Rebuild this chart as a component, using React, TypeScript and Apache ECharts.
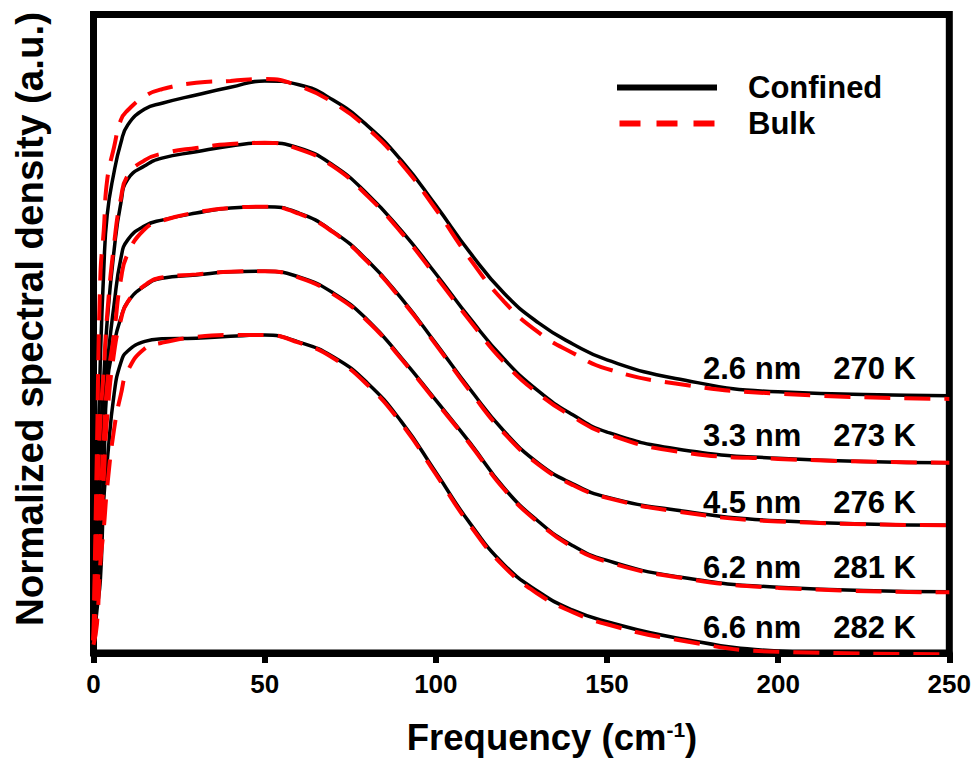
import React, { useEffect, useRef } from 'react';
import * as echarts from 'echarts';

// Frequency grid (cm^-1)
const frequency = [0, 1, 2, 3, 4, 6, 8, 10, 15, 20, 30, 40, 50, 60, 70, 80, 90, 100, 110, 120, 130, 140, 150, 170, 200, 250];

// Normalized spectral density (a.u., curves offset vertically)
const confined26 = [0.20, 2.40, 4.59, 6.00, 6.86, 7.53, 7.99, 8.27, 8.52, 8.61, 8.74, 8.86, 8.96, 8.90, 8.66, 8.26, 7.71, 7.01, 6.27, 5.63, 5.17, 4.84, 4.59, 4.30, 4.09, 4.03];
const bulk26 = [0.20, 3.18, 5.89, 6.62, 7.41, 7.92, 8.35, 8.50, 8.72, 8.83, 8.93, 8.96, 8.99, 8.88, 8.62, 8.22, 7.66, 6.95, 6.17, 5.50, 5.02, 4.70, 4.45, 4.22, 4.06, 3.98];

const confined33 = [0.20, 1.93, 3.34, 4.30, 5.20, 6.30, 7.05, 7.42, 7.63, 7.75, 7.85, 7.94, 7.99, 7.91, 7.64, 7.19, 6.61, 5.94, 5.24, 4.60, 4.10, 3.73, 3.46, 3.20, 3.05, 2.98];
const bulk33 = [0.20, 2.24, 3.65, 4.43, 5.30, 6.40, 7.12, 7.48, 7.72, 7.82, 7.91, 7.97, 7.99, 7.89, 7.62, 7.16, 6.58, 5.90, 5.20, 4.55, 4.06, 3.70, 3.43, 3.16, 3.04, 2.98];

const confined45 = [0.20, 1.46, 2.71, 3.65, 4.50, 5.45, 6.18, 6.47, 6.69, 6.78, 6.89, 6.97, 6.99, 6.89, 6.60, 6.15, 5.55, 4.85, 4.13, 3.47, 2.97, 2.65, 2.44, 2.24, 2.07, 2.00];
const bulk45 = [0.20, 1.30, 2.40, 3.34, 4.20, 5.00, 5.85, 6.25, 6.64, 6.77, 6.90, 6.97, 6.99, 6.88, 6.59, 6.13, 5.53, 4.83, 4.10, 3.44, 2.95, 2.63, 2.43, 2.22, 2.06, 2.00];

const confined62 = [0.20, 0.99, 1.93, 2.87, 4.20, 4.85, 5.25, 5.50, 5.75, 5.87, 5.92, 5.97, 5.98, 5.89, 5.64, 5.22, 4.62, 3.96, 3.29, 2.58, 2.06, 1.68, 1.45, 1.20, 1.03, 0.96];
const bulk62 = [0.20, 0.90, 1.80, 2.75, 3.70, 4.70, 5.22, 5.50, 5.76, 5.88, 5.93, 5.97, 5.98, 5.88, 5.62, 5.20, 4.60, 3.94, 3.27, 2.56, 2.04, 1.66, 1.43, 1.19, 1.02, 0.95];

const confined66 = [0.13, 0.67, 1.14, 2.40, 3.00, 4.05, 4.55, 4.73, 4.88, 4.92, 4.93, 4.96, 4.98, 4.87, 4.64, 4.23, 3.62, 2.83, 2.03, 1.38, 0.96, 0.67, 0.49, 0.24, 0.03, -0.05];
const bulk66 = [0.13, 0.45, 1.41, 1.95, 2.60, 3.50, 4.05, 4.42, 4.77, 4.86, 4.95, 4.98, 4.98, 4.86, 4.62, 4.20, 3.59, 2.80, 2.00, 1.35, 0.92, 0.64, 0.45, 0.21, 0.02, -0.02];

const sizeLabels = ['2.6 nm', '3.3 nm', '4.5 nm', '6.2 nm', '6.6 nm'];
const tempLabels = ['270 K', '273 K', '276 K', '281 K', '282 K'];
const legendNames = ['Confined', 'Bulk'];
const xTicks = [0, 50, 100, 150, 200, 250];

export default function App() {
  const ref = useRef<HTMLDivElement>(null);

  useEffect(() => {
    if (!ref.current) return;
    const chart = echarts.init(ref.current, null, { renderer: 'svg' });
    const font = 'Arial, "Liberation Sans", Helvetica, sans-serif';

    const pairs = [
      [confined26, bulk26],
      [confined33, bulk33],
      [confined45, bulk45],
      [confined62, bulk62],
      [confined66, bulk66],
    ];
    const series: any[] = [];
    pairs.forEach(([c, b]) => {
      series.push({
        type: 'line',
        name: legendNames[0],
        data: frequency.map((f, i) => [f, c[i]]),
        showSymbol: false,
        symbol: 'none',
        smooth: 0.5,
        color: '#000000',
        lineStyle: { color: '#000000', width: 3.5 },
        z: 2,
      });
      series.push({
        type: 'line',
        name: legendNames[1],
        data: frequency.map((f, i) => [f, b[i]]),
        showSymbol: false,
        symbol: 'none',
        smooth: 0.5,
        color: '#ff0000',
        lineStyle: { color: '#ff0000', width: 4, type: [26, 14] },
        z: 3,
      });
    });

    const labelTops = [368, 435, 502, 567, 627];
    const annotations: any[] = [];
    sizeLabels.forEach((s, i) => {
      annotations.push({
        type: 'text',
        x: 703,
        y: labelTops[i],
        z: 10,
        style: { text: s, font: `bold 31px ${font}`, fill: '#000', align: 'left', verticalAlign: 'middle' },
      });
      annotations.push({
        type: 'text',
        x: 916,
        y: labelTops[i],
        z: 10,
        style: { text: tempLabels[i], font: `bold 31px ${font}`, fill: '#000', align: 'right', verticalAlign: 'middle' },
      });
    });

    chart.setOption({
      animation: false,
      backgroundColor: '#ffffff',
      grid: {
        left: 93.5,
        right: 24.5,
        top: 14.5,
        bottom: 105,
        show: true,
        borderColor: '#000000',
        borderWidth: 7,
        backgroundColor: 'transparent',
      },
      legend: {
        data: [
          { name: legendNames[0], icon: 'path://M0,0H100V6H0Z' },
          { name: legendNames[1], icon: 'path://M0,0H21V6H0Z M37,0H58V6H37Z M74,0H95V6H74Z' },
        ],
        orient: 'vertical',
        left: 617,
        top: 72,
        padding: 0,
        itemWidth: 100,
        itemHeight: 6,
        itemGap: 5,
        textStyle: { fontSize: 31, fontWeight: 'bold', fontFamily: font, color: '#000', padding: [10, 0, 0, 26] },
        selectedMode: false,
      },
      xAxis: {
        type: 'value',
        min: xTicks[0],
        max: xTicks[xTicks.length - 1],
        interval: xTicks[1] - xTicks[0],
        axisLine: { show: true, lineStyle: { color: '#000', width: 7 } },
        axisTick: { show: true, length: 10, lineStyle: { color: '#000', width: 6 } },
        axisLabel: { fontSize: 26, fontWeight: 'bold', fontFamily: font, color: '#000', margin: 18 },
        splitLine: { show: false },
      },
      yAxis: {
        type: 'value',
        min: 0,
        max: 10,
        show: false,
        splitLine: { show: false },
      },
      graphic: [
        {
          type: 'text',
          x: 29,
          y: 319,
          rotation: Math.PI / 2,
          style: {
            text: 'Normalized spectral density (a.u.)',
            font: `bold 38.5px ${font}`,
            fill: '#000',
            align: 'center',
            verticalAlign: 'middle',
          },
        },
        {
          type: 'text',
          x: 552,
          y: 737,
          style: {
            text: '{a|Frequency (cm}{s|-1}{a|)}',
            align: 'center',
            verticalAlign: 'middle',
            rich: {
              a: { font: `bold 36.5px ${font}`, fill: '#000', color: '#000' },
              s: { font: `bold 21px ${font}`, fill: '#000', color: '#000', verticalAlign: 'top' },
            },
          },
        },
        ...annotations,
      ],
      series,
    });

    return () => chart.dispose();
  }, []);

  return <div ref={ref} style={{ position: 'fixed', left: 0, top: 0, width: 974, height: 758 }} />;
}
